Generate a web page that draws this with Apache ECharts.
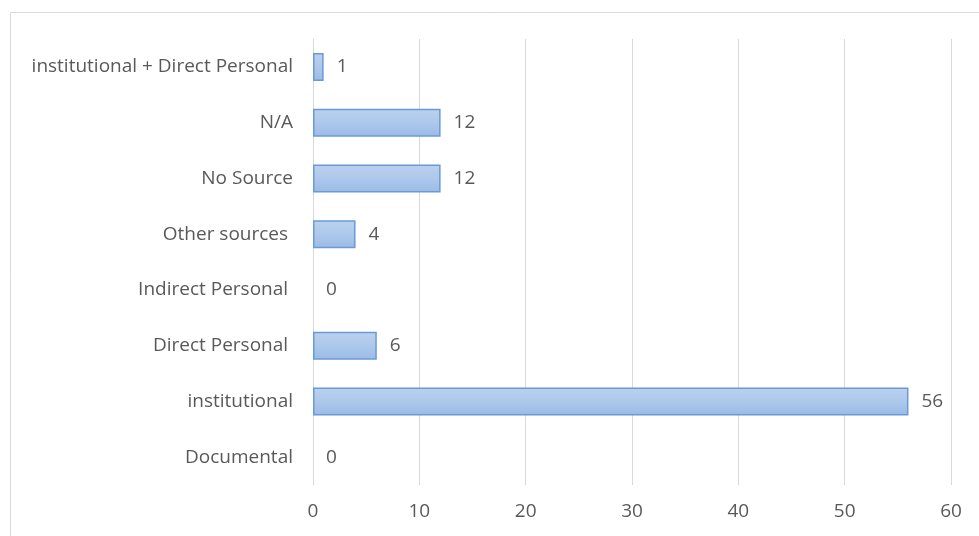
<!DOCTYPE html>
<html><head><meta charset="utf-8">
<script src="https://cdn.jsdelivr.net/npm/echarts@6/dist/echarts.min.js"></script>
<style>html,body{margin:0;padding:0;background:#fff;}#c{width:979px;height:536px;}</style>
</head><body><div id="c"></div>
<script>
const categories = ["Documental","institutional","Direct Personal ","Indirect Personal ","Other sources ","No Source","N/A","institutional + Direct Personal"];
const values = [0,56,6,0,4,12,12,1];
const xTicks = {min:0,max:60,interval:10};

const chart = echarts.init(document.getElementById('c'));
const FONT = 'Open Sans';
const FS = 19;
chart.setOption({
  animation:false,
  backgroundColor:'#fff',
  graphic:[{type:'rect',shape:{x:10.5,y:12.5,width:975,height:540},style:{fill:'none',stroke:'#d9d9d9',lineWidth:1},silent:true}],
  grid:{left:313,right:28,top:39,bottom:51,containLabel:false},
  xAxis:{type:'value',min:xTicks.min,max:xTicks.max,interval:xTicks.interval,
    axisLine:{show:false},axisTick:{show:false},
    splitLine:{lineStyle:{color:'#d9d9d9',width:1}},
    axisLabel:{color:'#595959',fontFamily:FONT,fontSize:FS,margin:17}},
  yAxis:{type:'category',data:categories,
    axisLine:{show:true,lineStyle:{color:'#d9d9d9'}},axisTick:{show:false},
    axisLabel:{color:'#595959',fontFamily:FONT,fontSize:FS,margin:20,padding:[3,0,0,0]}},
  series:[{type:'bar',
    data:values.map(v=>({value:v,itemStyle:{borderWidth:v===0?0:1.5}})),
    barWidth:28,
    itemStyle:{borderColor:'#6a9ad6',borderWidth:1.5,
      color:new echarts.graphic.LinearGradient(0,0,0,1,[{offset:0,color:'#bbd2ef'},{offset:0.5,color:'#adc8eb'},{offset:1,color:'#9bbbe6'}])},
    label:{show:true,position:'right',distance:13,color:'#595959',fontFamily:FONT,fontSize:FS,padding:[3,0,0,0]}}]
});
</script></body></html>
